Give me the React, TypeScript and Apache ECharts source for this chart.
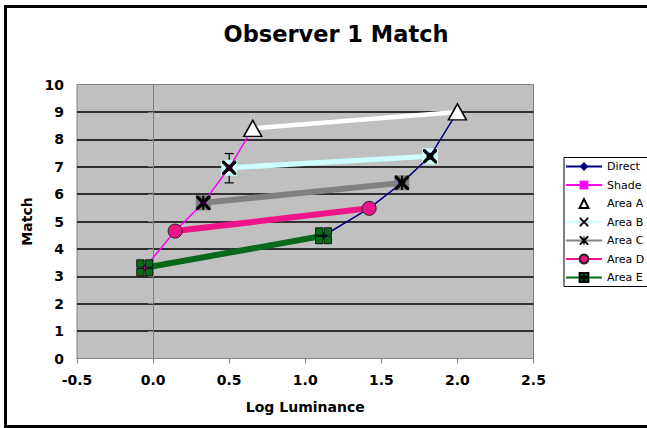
import React, { useEffect, useRef } from "react";
import * as echarts from "echarts";

const directX = [1.12, 1.42, 1.635, 1.82, 2.0];
const directY = [4.48, 5.48, 6.41, 7.38, 9.0];
const shadeX = [-0.055, 0.145, 0.33, 0.5, 0.655];
const shadeY = [3.31, 4.65, 5.68, 6.96, 8.4];
// area index into direct/shade arrays: E=0, D=1, C=2, B=3, A=4
const areaNames = ["Area E", "Area D", "Area C", "Area B", "Area A"];
const errorBarB = [[0.5, 6.41, 7.48]];
const xTicks = [-0.5, 0, 0.5, 1, 1.5, 2, 2.5];
const yMin = 0;
const yMax = 10;

const X_PATH =
  "path://M0,0 L3,0 L10,7 L17,0 L20,0 L20,3 L13,10 L20,17 L20,20 L17,20 L10,13 L3,20 L0,20 L0,17 L7,10 L0,3 Z";
const STAR_PATH =
  "path://M0,0 L3,0 L10,7 L17,0 L20,0 L20,3 L13,10 L20,17 L20,20 L17,20 L10,13 L3,20 L0,20 L0,17 L7,10 L0,3 Z M8.8,0 L11.2,0 L11.2,20 L8.8,20 Z";
const PLUS_SQ_PATH =
  "path://M0,0 L9.3,0 L9.3,9.3 L0,9.3 Z M10.7,0 L20,0 L20,9.3 L10.7,9.3 Z M0,10.7 L9.3,10.7 L9.3,20 L0,20 Z M10.7,10.7 L20,10.7 L20,20 L10.7,20 Z";

const FONT = "'DejaVu Sans', Verdana, sans-serif";

function pair(i: number) {
  return [
    [shadeX[i], shadeY[i]],
    [directX[i], directY[i]],
  ];
}

function markerOnly(name: string, i: number, symbol: string, size: number, color: string, z: number) {
  return {
    name,
    type: "line",
    data: pair(i),
    symbol,
    symbolSize: size,
    showSymbol: true,
    z,
    lineStyle: { width: 0, opacity: 0 },
    itemStyle: { color, opacity: 1 },
    silent: true,
  };
}

const frame = {
  type: "rect",
  shape: { x: 5.5, y: 6.5, width: 660, height: 420 },
  style: { fill: "none", stroke: "#000", lineWidth: 3 },
  z: 100,
};

export default function App() {
  const ref = useRef<HTMLDivElement>(null);
  useEffect(() => {
    document.body.style.margin = "0";
    const chart = echarts.init(ref.current!, null, { renderer: "svg" });
    const direct = directX.map((x, i) => [x, directY[i]]);
    const shade = shadeX.map((x, i) => [x, shadeY[i]]);
    const option: any = {
      animation: false,
      backgroundColor: "#ffffff",
      title: {
        text: "Observer 1 Match",
        left: 331,
        top: 17,
        textAlign: "center",
        textStyle: { fontFamily: FONT, fontWeight: "bold", fontSize: 22.5, color: "#000" },
      },
      graphic: [frame],
      legend: {
        orient: "vertical",
        left: 564,
        top: 157.5,
        padding: [3, 20, 3, 1],
        borderColor: "#000",
        borderWidth: 1,
        backgroundColor: "#fff",
        itemWidth: 36,
        itemHeight: 11,
        itemGap: 6.5,
        textStyle: { fontFamily: FONT, fontSize: 11, color: "#000", lineHeight: 12 },
        data: ["Direct", "Shade", "Area A", "Area B", "Area C", "Area D", "Area E"],
      },
      grid: {
        left: 77,
        top: 84.5,
        right: 113.5,
        bottom: 69.5,
        show: true,
        backgroundColor: "#c0c0c0",
        borderColor: "#808080",
        borderWidth: 1,
        containLabel: false,
        outerBoundsMode: "none",
      },
      xAxis: {
        type: "value",
        min: xTicks[0],
        max: xTicks[xTicks.length - 1],
        interval: 0.5,
        name: "Log Luminance",
        nameLocation: "middle",
        nameGap: 41,
        nameTextStyle: { fontFamily: FONT, fontWeight: "bold", fontSize: 14, color: "#000" },
        axisLine: { show: true, lineStyle: { color: "#808080", width: 1 } },
        axisTick: { show: true, length: 5, lineStyle: { color: "#808080" } },
        axisLabel: {
          margin: 14,
          fontFamily: FONT,
          fontWeight: "bold",
          fontSize: 14,
          color: "#000",
          formatter: (v: number) => v.toFixed(1),
        },
        splitLine: { show: false },
      },
      yAxis: {
        type: "value",
        min: yMin,
        max: yMax,
        interval: 1,
        name: "Match",
        nameLocation: "middle",
        nameRotate: 90,
        nameGap: 39,
        nameTextStyle: { fontFamily: FONT, fontWeight: "bold", fontSize: 14, color: "#000" },
        axisLine: { show: true, lineStyle: { color: "#808080", width: 1 } },
        axisTick: { show: true, length: 5, lineStyle: { color: "#808080" } },
        axisLabel: { margin: 13, fontFamily: FONT, fontWeight: "bold", fontSize: 14, color: "#000" },
        splitLine: {
          show: true,
          showMinLine: false,
          showMaxLine: false,
          lineStyle: { color: "#000", width: 1.5 },
        },
      },
      series: [
        {
          name: "Direct",
          type: "line",
          data: direct,
          symbol: "diamond",
          symbolSize: 8,
          lineStyle: { color: "#000080", width: 1.5 },
          itemStyle: { color: "#000080" },
        },
        {
          name: "Shade",
          type: "line",
          data: shade,
          symbol: "rect",
          symbolSize: 7,
          lineStyle: { color: "#ff00ff", width: 1.5 },
          itemStyle: { color: "#ff00ff" },
        },
        {
          name: areaNames[4],
          type: "line",
          data: pair(4),
          symbol: "triangle",
          symbolSize: [18, 16],
          lineStyle: { color: "#ffffff", width: 4.5 },
          itemStyle: { color: "#ffffff", borderColor: "#000", borderWidth: 1.5 },
        },
        {
          name: "errB",
          type: "custom",
          data: errorBarB,
          renderItem: (params: any, api: any) => {
            const x = api.value(0);
            const lo = api.coord([x, api.value(1)]);
            const hi = api.coord([x, api.value(2)]);
            const w = 4.5;
            const st = { stroke: "#000", lineWidth: 1.2 };
            return {
              type: "group",
              children: [
                { type: "line", shape: { x1: lo[0], y1: lo[1], x2: hi[0], y2: hi[1] }, style: st },
                { type: "line", shape: { x1: lo[0] - w, y1: lo[1], x2: lo[0] + w, y2: lo[1] }, style: st },
                { type: "line", shape: { x1: hi[0] - w, y1: hi[1], x2: hi[0] + w, y2: hi[1] }, style: st },
              ],
            };
          },
        },
        {
          name: areaNames[3],
          type: "line",
          data: pair(3),
          symbol: X_PATH,
          symbolSize: 14,
          lineStyle: { color: "#ccffff", width: 5 },
          itemStyle: { color: "#000" },
        },
        markerOnly("xB", 3, X_PATH, 14, "#000", 4),
        {
          name: areaNames[2],
          type: "line",
          data: pair(2),
          symbol: STAR_PATH,
          symbolSize: 14,
          lineStyle: { color: "#808080", width: 6 },
          itemStyle: { color: "#000" },
        },
        markerOnly("xC", 2, STAR_PATH, 14, "#000", 4),
        {
          name: areaNames[1],
          type: "line",
          data: pair(1),
          symbol: "circle",
          symbolSize: 14,
          lineStyle: { color: "#f0148a", width: 6 },
          itemStyle: { color: "#f0148a", borderColor: "#222", borderWidth: 1 },
        },
        {
          name: areaNames[0],
          type: "line",
          data: pair(0),
          symbol: PLUS_SQ_PATH,
          symbolSize: 16,
          lineStyle: { color: "#08681c", width: 6 },
          itemStyle: { color: "#08681c", borderColor: "#000", borderWidth: 0.8 },
        },
      ],
    };
    chart.setOption(option);

    // marker background squares, positioned through the chart's own scales
    const bgDefs = [
      { pts: pair(3), size: 16, color: "#ccffff" },
      { pts: pair(2), size: 15, color: "#808080" },
    ];
    const bgEls: any[] = [];
    bgDefs.forEach((d) => {
      d.pts.forEach((p) => {
        const px = chart.convertToPixel({ xAxisIndex: 0, yAxisIndex: 0 }, p) as number[];
        if (px && isFinite(px[0]) && isFinite(px[1])) {
          bgEls.push({
            type: "rect",
            silent: true,
            z: 3,
            shape: { x: px[0] - d.size / 2, y: px[1] - d.size / 2, width: d.size, height: d.size },
            style: { fill: d.color },
          });
        }
      });
    });
    chart.setOption({ graphic: [frame, ...bgEls] });
    return () => chart.dispose();
  }, []);
  return (
    <div
      ref={ref}
      style={{ position: "fixed", left: 0, top: 0, width: 647, height: 428 }}
    />
  );
}
